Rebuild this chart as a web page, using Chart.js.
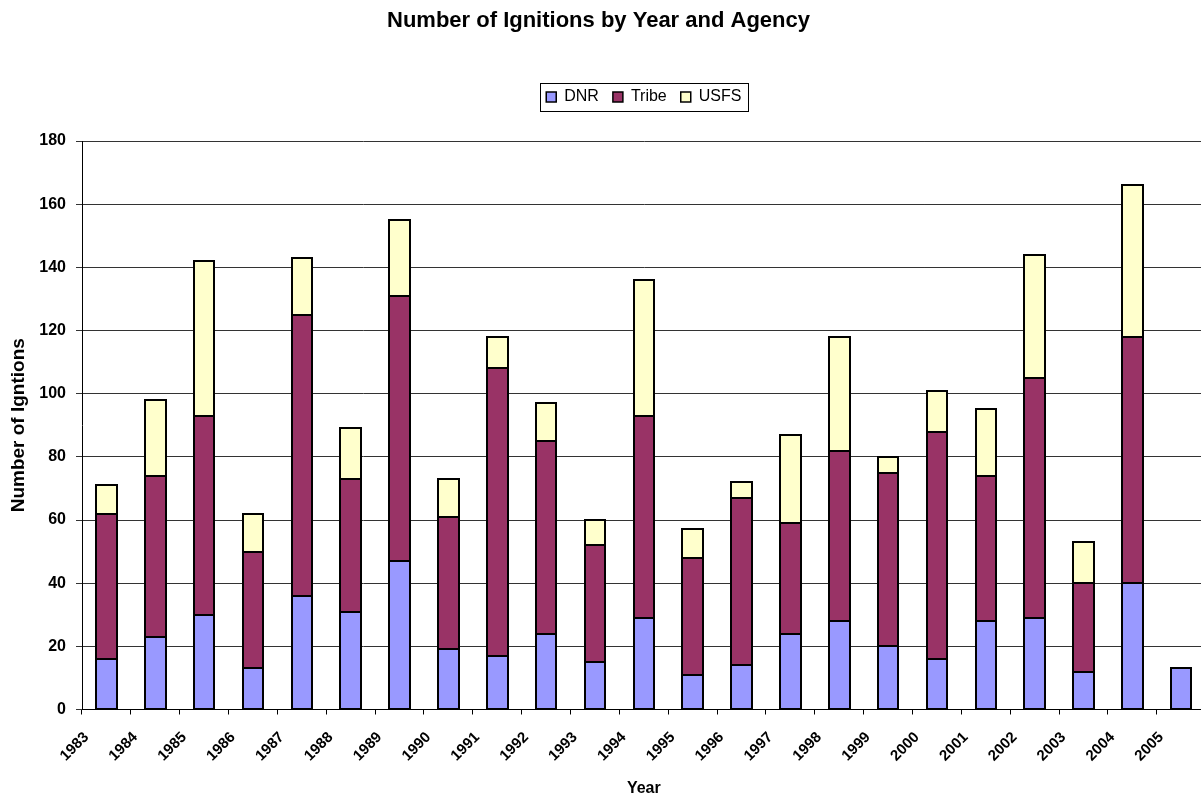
<!DOCTYPE html>
<html><head><meta charset="utf-8">
<script src="https://cdn.jsdelivr.net/npm/chart.js@4.4.1/dist/chart.umd.min.js"></script>
<style>
html,body{margin:0;padding:0;background:#fff;overflow:hidden;}
#wrap{position:relative;width:1208px;height:798px;}
</style></head><body>
<div id="wrap"><canvas id="c" width="1208" height="798"></canvas></div>
<script>
const years = ['1983','1984','1985','1986','1987','1988','1989','1990','1991','1992','1993','1994','1995','1996','1997','1998','1999','2000','2001','2002','2003','2004','2005'];
const dnr   = [16, 23, 30, 13, 36, 31, 47, 19, 17, 24, 15, 29, 11, 14, 24, 28, 20, 16, 28, 29, 12, 40, 13];
const tribe = [46, 51, 63, 37, 89, 42, 84, 42, 91, 61, 37, 64, 37, 53, 35, 54, 55, 72, 46, 76, 28, 78, null];
const usfs  = [ 9, 24, 49, 12, 18, 16, 24, 12, 10, 12,  8, 43,  9,  5, 28, 36,  5, 13, 21, 39, 13, 48, null];
const seriesNames = ['DNR', 'Tribe', 'USFS'];
const yMin = 0, yMax = 180, yStep = 20;

const FONT = "'Liberation Sans', Arial, sans-serif";
Chart.defaults.font.family = FONT;
Chart.defaults.color = '#000';

const LEGEND_DY = 26;
const TITLE_DX = -5.5;

const layoutFix = {
  id: 'layoutFix',
  afterLayout(chart) {
    const lg = chart.legend;
    if (lg) { lg.top -= LEGEND_DY; lg.bottom -= LEGEND_DY; }
    const t = chart.titleBlock;
    if (t) { t.left += TITLE_DX; t.right += TITLE_DX; }
  },
  afterDatasetsDraw(chart) {
    // crisp outlines around each bar element, taken from the library's own element geometry
    const ctx = chart.ctx;
    ctx.save();
    ctx.strokeStyle = '#000';
    ctx.lineWidth = 2;
    chart.data.datasets.forEach((ds, di) => {
      const meta = chart.getDatasetMeta(di);
      meta.data.forEach((el, i) => {
        const v = ds.data[i];
        if (v === null || v === undefined || v === 0) return;
        const p = el.getProps(['x', 'y', 'base', 'width'], true);
        const l = Math.round(p.x - p.width / 2), r = Math.round(p.x + p.width / 2);
        const t = Math.round(Math.min(p.y, p.base)), b = Math.round(Math.max(p.y, p.base));
        ctx.strokeRect(l, t, r - l, b - t);
      });
    });
    ctx.restore();
  },
  afterDraw(chart) {
    const lg = chart.legend;
    if (!lg || !lg.legendHitBoxes || !lg.legendHitBoxes.length) return;
    const hb = lg.legendHitBoxes;
    const l = Math.min(...hb.map(h => h.left));
    const r = Math.max(...hb.map(h => h.left + h.width));
    const t = Math.min(...hb.map(h => h.top));
    const b = Math.max(...hb.map(h => h.top + h.height));
    const ctx = chart.ctx;
    ctx.save();
    ctx.strokeStyle = '#000';
    ctx.lineWidth = 1;
    ctx.strokeRect(Math.round(l - 6) + 0.5, Math.round(t - 6) + 0.5, Math.round(r - l + 13), Math.round(b - t + 12));
    ctx.restore();
  }
};

const common = { borderColor: '#000', borderWidth: 0, barPercentage: 0.42, categoryPercentage: 1.0 };

new Chart(document.getElementById('c'), {
  type: 'bar',
  data: {
    labels: years,
    datasets: [
      Object.assign({ label: seriesNames[0], data: dnr,   backgroundColor: '#9999FF' }, common),
      Object.assign({ label: seriesNames[1], data: tribe, backgroundColor: '#993366' }, common),
      Object.assign({ label: seriesNames[2], data: usfs,  backgroundColor: '#FFFFCC' }, common)
    ]
  },
  options: {
    responsive: false,
    devicePixelRatio: 1,
    animation: false,
    layout: { padding: 0 },
    plugins: {
      title: {
        display: true,
        text: 'Number of Ignitions by Year and Agency',
        font: { size: 22, weight: 'bold' },
        color: '#000',
        padding: { top: 8, bottom: 66.6 }
      },
      legend: {
        display: true,
        position: 'top',
        fullSize: false,
        labels: {
          boxWidth: 10, boxHeight: 10, padding: 14, font: { size: 16 }, color: '#000',
          generateLabels(chart) {
            const items = Chart.defaults.plugins.legend.labels.generateLabels(chart);
            items.forEach(it => { it.lineWidth = 1.5; it.strokeStyle = '#000'; });
            return items;
          }
        }
      },
      tooltip: { enabled: false }
    },
    scales: {
      x: {
        stacked: true,
        grid: { offset: true, drawOnChartArea: false, drawTicks: true, tickLength: 5, color: '#000' },
        border: { color: '#000', width: 1 },
        ticks: { autoSkip: false, minRotation: 45, maxRotation: 45, labelOffset: -20, padding: 14, font: { size: 15, weight: 'bold' }, color: '#000' },
        title: { display: true, text: 'Year', font: { size: 16, weight: 'bold' }, color: '#000', padding: { top: 0, bottom: 0 } },
        afterFit(s) { s.height = 88.5; }
      },
      y: {
        stacked: true,
        min: yMin, max: yMax,
        ticks: { stepSize: yStep, padding: 10, font: { size: 16, weight: 'bold' }, color: '#000' },
        grid: { color: '#333', tickLength: 6, drawTicks: true },
        border: { color: '#000', width: 1 },
        title: { display: true, text: 'Number of Igntions', font: { size: 19, weight: 'bold' }, color: '#000', padding: { top: 7, bottom: 0 } },
        afterFit(s) { s.width = 82; }
      }
    }
  },
  plugins: [layoutFix]
});
</script>
</body></html>
